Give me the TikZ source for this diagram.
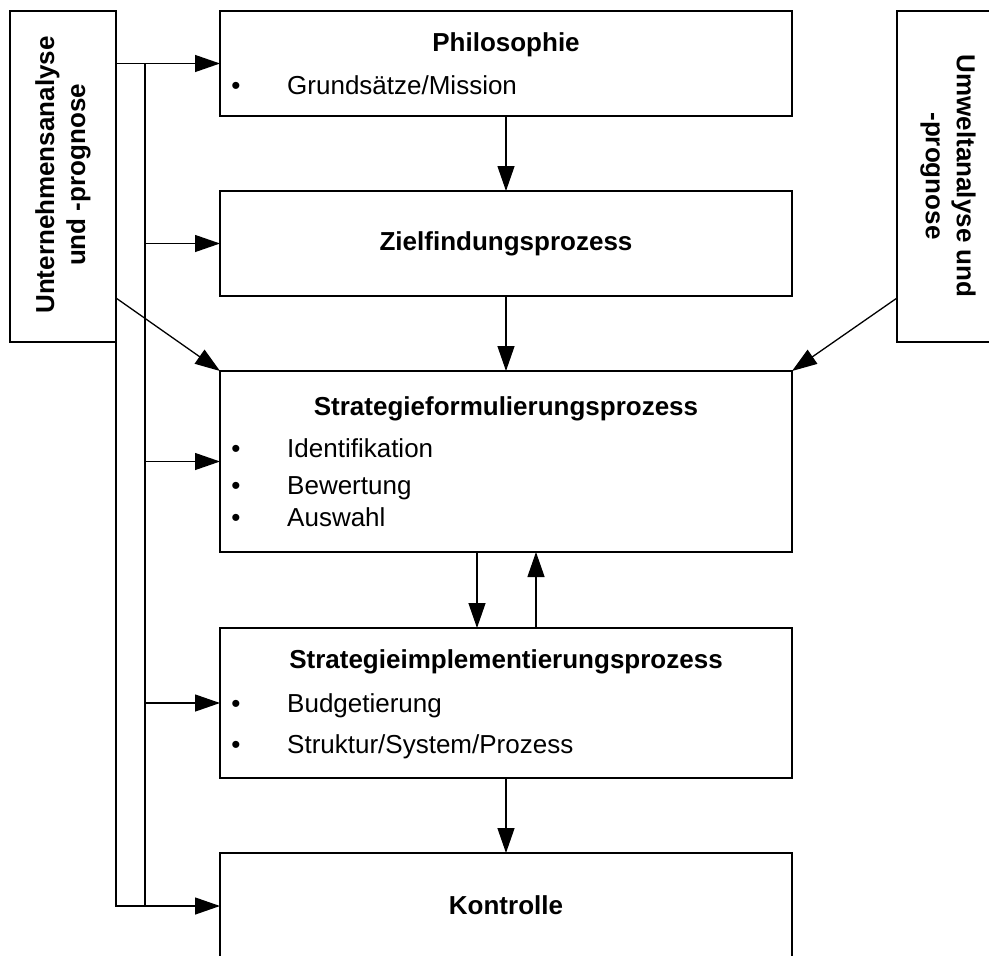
\documentclass[tikz,border=0pt]{standalone}
\usepackage{fontspec}
\setmainfont{Liberation Sans}
\usetikzlibrary{arrows.meta}
\begin{document}
\begin{tikzpicture}[x=1pt,y=-1pt,
  box/.style={draw, line width=1.3pt, anchor=north west, inner sep=0pt, outer sep=0pt},
  mainbox/.style={box, minimum width=572pt},
  sidebox/.style={box, minimum width=106pt, minimum height=331pt},
  title/.style={font=\fontsize{26}{31}\selectfont\bfseries, inner sep=0pt, anchor=base},
  item/.style={font=\fontsize{26}{31}\selectfont, inner sep=0pt, anchor=base west},
  bul/.style={font=\fontsize{26}{31}\selectfont, inner sep=0pt, anchor=base},
  sidetext/.style={font=\fontsize{26}{31}\selectfont\bfseries, inner sep=0pt, align=center},
  conn/.style={line width=1.3pt, -{Triangle[length=25pt,width=17pt]}},
  wire/.style={line width=1.3pt},
  buswire/.style={line width=2pt}
]
\clip (0,0) rectangle (989,956);

% side boxes
\node[sidebox] (lbox) at (10,11) {};
\node[sidebox] (rbox) at (897,11) {};
\node[sidetext, rotate=90] (lboxT) at (63,175) {Unternehmensanalyse\\und -prognose};
\node[sidetext, rotate=-90] (rboxT) at (948,176) {Umweltanalyse und\\-prognose};

% process boxes
\node[mainbox, minimum height=105pt] (phil) at (220,11) {};
\node[mainbox, minimum height=105pt] (ziel) at (220,191) {};
\node[mainbox, minimum height=181pt] (strat) at (220,371) {};
\node[mainbox, minimum height=150pt] (impl) at (220,628) {};
\node[mainbox, minimum height=106pt] (kontr) at (220,853) {};

% box contents
\node[title] (philT) at (506,51) {Philosophie};
\node[bul] (philB1) at (236,94) {•};
\node[item] (philI1) at (287,94) {Grundsätze/Mission};

\node[title] (zielT) at (506,250) {Zielfindungsprozess};

\node[title] (stratT) at (506,415) {Strategieformulierungsprozess};
\node[bul] (stratB1) at (236,457) {•};
\node[item] (stratI1) at (287,457) {Identifikation};
\node[bul] (stratB2) at (236,494) {•};
\node[item] (stratI2) at (287,494) {Bewertung};
\node[bul] (stratB3) at (236,526) {•};
\node[item] (stratI3) at (287,526) {Auswahl};

\node[title] (implT) at (506,668) {Strategieimplementierungsprozess};
\node[bul] (implB1) at (236,712) {•};
\node[item] (implI1) at (287,712) {Budgetierung};
\node[bul] (implB2) at (236,753) {•};
\node[item] (implI2) at (287,753) {Struktur/System/Prozess};

\node[title] (kontrT) at (506,914) {Kontrolle};

% feed from the company analysis
\coordinate (bus) at (145,0 |- phil.west);
\draw[conn] (lbox.east |- phil.west) -- (phil.west);
\draw[buswire] (bus) -- (bus |- kontr.west);
\draw[conn] (bus |- ziel.west) -- (ziel.west);
\draw[conn] (bus |- strat.west) -- (strat.west);
\draw[conn] (bus |- impl.west) -- (impl.west);
\draw[conn] (lbox.south east) |- (kontr.west);
\draw[conn] ([yshift=44pt]lbox.south east) -- (strat.north west);
\draw[conn] ([yshift=44pt]rbox.south west) -- (strat.north east);

% main process chain
\draw[conn] (phil.south) -- (ziel.north);
\draw[conn] (ziel.south) -- (strat.north);
\draw[conn] ([xshift=-29pt]strat.south) -- ([xshift=-29pt]impl.north);
\draw[conn] ([xshift=30pt]impl.north) -- ([xshift=30pt]strat.south);
\draw[conn] (impl.south) -- (kontr.north);
\end{tikzpicture}
\end{document}
